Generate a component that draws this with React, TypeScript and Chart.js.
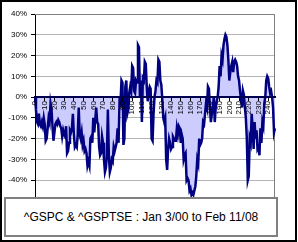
import React, { useEffect, useRef } from "react";
import { Chart, registerables } from "chart.js";

Chart.register(...registerables);

// Relative performance (%) per period
const values: number[] = [
  0, -6, -12, -13, -8, -13, -14, -12, -14, -10,
  -13, -21, -20, -15, -10, -12, -3, -6, -14, -21,
  -17, -13, -12, -13, -11, -12, -14, -15, -19, -16,
  -18, -19, -14, -27, -26, -22, -16, -17, -15, -8,
  -18, -24, -23, -24, -18, -5, -18, -20, -17, -23,
  -21, -26, -25, -27, -33, -31, -33, -20, -19, -22,
  -10, -17, -11, -5, -12, -13, -24, -28, -27, -19,
  -22, -30, -36, -34, -28, -6, -28, -36, -34, -30,
  -31, -24, -26, -24, -22, -15, -22, -2, -3, 8,
  7, -23, -20, 5, 8, -8, -6, 2, 5, 3,
  15, 14, 3, 2, 8, 7, 25, 24, 0, 8,
  -12, 9, 8, 17, 16, 5, -2, 3, 5, 4,
  -20, -21, -8, 0, 3, 8, 7, 18, 17, 8,
  6, -1, -10, -12, -10, -30, -35, -25, -20, -22,
  -25, -24, -19, -20, -21, -21, -15, -18, -14, -15,
  -22, -18, -20, -30, -28, -27, -40, -39, -40, -45,
  -44, -47, -46, -47, -45, -43, -38, -30, -32, -20,
  -23, -22, -20, -12, -13, -8, -3, -5, 5, 4,
  -5, -12, -8, -5, 0, -12, -5, -2, 0, 5,
  15, 10, 20, 18, 25, 28, 30, 29, 25, 18,
  8, 12, 15, 17, 12, 17, 18, 17, 15, 10,
  8, 3, 3, -5, 3, 1, -5, -10, -20, -40,
  -38, -20, -22, -8, -15, -25, -12, -20, -16, -25,
  -24, -28, -15, -22, -12, -14, -3, 0, 8, 10,
  9, 5, 2, 3, 0, -5, -17, -15,
];

const categories: string[] = values.map((_, i) => String(i));
const yMin = -50;
const yMax = 40;
const yStep = 10;
const labelEvery = 10;
const titleText = "^GSPC & ^GSPTSE : Jan 3/00 to Feb 11/08";

const FONT = 'Arial, "Liberation Sans", sans-serif';

export default function App() {
  const ref = useRef<HTMLCanvasElement>(null);

  useEffect(() => {
    if (!ref.current) return;
    const plotFrame = {
      id: "plotFrame",
      beforeDatasetsDraw(chart: any) {
        const { ctx, chartArea: a } = chart;
        ctx.save();
        ctx.strokeStyle = "#808080";
        ctx.lineWidth = 1;
        ctx.beginPath();
        ctx.moveTo(a.left, Math.round(a.top) + 0.5);
        ctx.lineTo(Math.round(a.right) - 0.5, Math.round(a.top) + 0.5);
        ctx.lineTo(Math.round(a.right) - 0.5, a.bottom);
        ctx.stroke();
        ctx.restore();
      },
    };
    const chart = new Chart(ref.current, {
      type: "line",
      data: {
        labels: categories,
        datasets: [
          {
            data: values,
            borderColor: "#000080",
            borderWidth: 2.5,
            backgroundColor: "#CCCCFF",
            fill: "origin",
            pointRadius: 0,
            tension: 0,
          },
        ],
      },
      options: {
        animation: false,
        responsive: false,
        maintainAspectRatio: false,
        layout: { padding: { left: 0, right: 23, top: 14, bottom: 41 } },
        plugins: {
          legend: { display: false },
          tooltip: { enabled: false },
          title: { display: false },
        },
        scales: {
          x: {
            type: "category",
            position: { y: 0 } as any,
            offset: false,
            grid: {
              drawOnChartArea: false,
              drawTicks: true,
              tickLength: 3,
              tickColor: "#000",
              z: 1,
            } as any,
            border: { display: true, color: "#000050", width: 2, z: 1 } as any,
            ticks: {
              autoSkip: false,
              maxRotation: 90,
              minRotation: 90,
              padding: 1,
              z: 1,
              color: "#000",
              font: { family: FONT, size: 8 },
              callback: (_v: any, i: number) =>
                i % labelEvery === 0 ? categories[i] : null,
            } as any,
          },
          y: {
            min: yMin,
            max: yMax,
            afterFit: (s: any) => {
              s.width = 35;
            },
            ticks: {
              stepSize: yStep,
              padding: 4,
              color: "#000",
              font: { family: FONT, size: 8 },
              callback: (v: any) => v + "%",
            },
            grid: { color: "#B4B4B4", tickColor: "#000", tickLength: 4 },
            border: { display: true, color: "#000", width: 1 },
          },
        },
      },
      plugins: [plotFrame],
    });
    return () => chart.destroy();
  }, []);

  return (
    <div
      style={{
        position: "fixed",
        left: 0,
        top: 0,
        width: 298,
        height: 242,
        background: "#fff",
      }}
    >
      <canvas
        ref={ref}
        width={298}
        height={242}
        style={{ position: "absolute", left: 0, top: 0, width: 298, height: 242 }}
      />
      <div
        style={{
          position: "absolute",
          left: 0,
          top: 0,
          width: 297,
          height: 242,
          boxSizing: "border-box",
          border: "2px solid #000",
          pointerEvents: "none",
        }}
      />
      <div
        style={{
          position: "absolute",
          left: 4,
          top: 197,
          width: 274,
          height: 40,
          boxSizing: "border-box",
          border: "2px solid #808080",
          background: "#fff",
          display: "flex",
          alignItems: "center",
          justifyContent: "center",
          fontFamily: FONT,
          fontSize: 12,
          color: "#000",
          whiteSpace: "nowrap",
        }}
      >
        {titleText}
      </div>
    </div>
  );
}
